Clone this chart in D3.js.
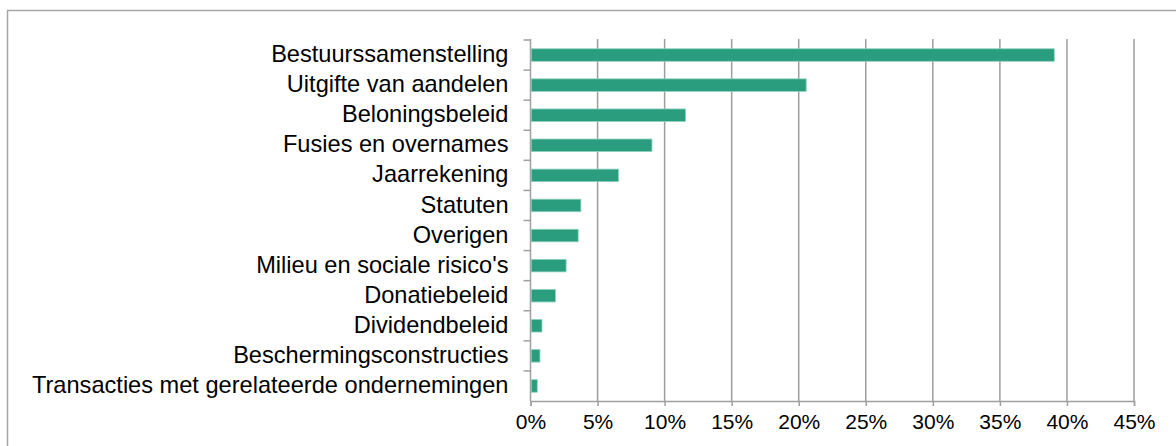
<!DOCTYPE html>
<html>
<head>
<meta charset="utf-8">
<script src="https://cdn.jsdelivr.net/npm/d3@7"></script>
<style>
  body { margin: 0; background: #fff; }
  text { font-family: "Liberation Sans", Arial, sans-serif; fill: #000; }
</style>
</head>
<body>
<div id="chart"></div>
<script>
const categories = [
    "Bestuurssamenstelling",
    "Uitgifte van aandelen",
    "Beloningsbeleid",
    "Fusies en overnames",
    "Jaarrekening",
    "Statuten",
    "Overigen",
    "Milieu en sociale risico's",
    "Donatiebeleid",
    "Dividendbeleid",
    "Beschermingsconstructies",
    "Transacties met gerelateerde ondernemingen"
];
const values = [39.0, 20.5, 11.5, 9.0, 6.5, 3.7, 3.5, 2.6, 1.8, 0.8, 0.65, 0.45];
const xTicks = [0, 5, 10, 15, 20, 25, 30, 35, 40, 45];

const width = 1176;
const height = 446;
const margin = { top: 40, right: 42, bottom: 45, left: 530.5 };
const innerW = width - margin.left - margin.right;
const innerH = height - margin.top - margin.bottom;

const svg = d3.select("div#chart").append("svg")
    .attr("width", width)
    .attr("height", height)

// outer frame
svg.append("rect")
    .attr("x", 7.5).attr("y", 10.5)
    .attr("width", width + 10).attr("height", height + 10)
    .attr("fill", "none")
    .attr("stroke", "#a6a6a6")
    .attr("stroke-width", 1.5)

const g = svg.append("g")
    .attr("transform", `translate(${margin.left}, ${margin.top})`)

const x = d3.scaleLinear().domain([0, 45]).range([0, innerW])
const y = d3.scaleBand().domain(categories).range([0, innerH])

// gridlines
g.append("g").selectAll("line")
    .data(xTicks.slice(1))
    .enter().append("line")
    .attr("x1", d => x(d)).attr("x2", d => x(d))
    .attr("y1", -1).attr("y2", innerH)
    .attr("stroke", "#9e9e9e")
    .attr("stroke-width", 1.5)

// x axis
const xAxis = d3.axisBottom(x)
    .tickValues(xTicks)
    .tickSize(5)
    .tickPadding(8)
    .tickFormat(d => d + "%")
const xAxisGroup = g.append("g")
    .attr("transform", `translate(0, ${innerH})`)
    .call(xAxis)
xAxisGroup.select(".domain").attr("stroke", "#a0a0a0").attr("stroke-width", 1.5)
xAxisGroup.selectAll(".tick line").attr("stroke", "#a0a0a0").attr("stroke-width", 1.5)
xAxisGroup.selectAll(".tick text").style("font-size", "21px").attr("fill", "#000")

// y axis labels
const yAxis = d3.axisLeft(y).tickSize(0).tickPadding(22)
const yAxisGroup = g.append("g").call(yAxis)
yAxisGroup.select(".domain").remove()
yAxisGroup.selectAll(".tick text")
    .style("font-size", "23.6px")
    .attr("fill", "#000")
    .attr("dy", "0.3em")

// y axis line and boundary ticks
g.append("line")
    .attr("x1", 0).attr("x2", 0)
    .attr("y1", -1).attr("y2", innerH)
    .attr("stroke", "#a0a0a0")
    .attr("stroke-width", 1.5)
g.append("g").selectAll("line")
    .data(categories)
    .enter().append("line")
    .attr("x1", -7).attr("x2", 0)
    .attr("y1", d => y(d)).attr("y2", d => y(d))
    .attr("stroke", "#a0a0a0")
    .attr("stroke-width", 1.5)

// bars
const barH = 12.5
g.selectAll(".bar")
    .data(values)
    .enter().append("rect")
    .attr("class", "bar")
    .attr("x", 0.75)
    .attr("y", (d, i) => y(categories[i]) + (y.bandwidth() - barH) / 2)
    .attr("width", d => x(d))
    .attr("height", barH)
    .attr("fill", "#2a9d7e")
    .attr("stroke", "#8fd0bd")
    .attr("stroke-width", 0.8)
</script>
</body>
</html>
